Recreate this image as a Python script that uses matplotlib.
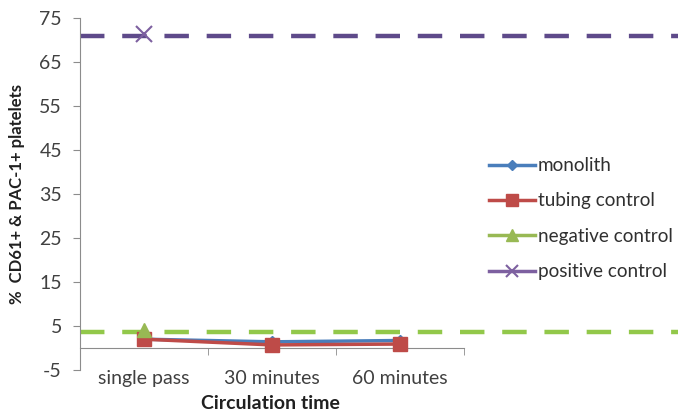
import matplotlib
matplotlib.use("Agg")
import matplotlib.pyplot as plt
import matplotlib.transforms as mtransforms
import numpy as np

plt.rcParams['font.family'] = ['Lato', 'DejaVu Sans']

categories = ["single pass", "30 minutes", "60 minutes"]
monolith = [2.0, 1.4, 1.7]
tubing = [2.0, 0.7, 0.9]
negative = [4.1, None, None]
positive = [71.3, None, None]
neg_level = 3.6
pos_level = 70.9
yticks = [-5, 5, 15, 25, 35, 45, 55, 65, 75]

FS = 14

fig = plt.figure(figsize=(6.78, 4.15), dpi=100)
ax = fig.add_axes([80/678, 1-370/415, 384/678, 352/415])

x = np.arange(len(categories))
def arr(v):
    return np.array([np.nan if a is None else a for a in v], dtype=float)

# extended dashed reference lines (span past the axes to the right edge)
tr = mtransforms.blended_transform_factory(ax.transAxes, ax.transData)
ax.plot([0, 598/384], [pos_level, pos_level], transform=tr, clip_on=False,
        color='#5E4A8A', lw=3.2, dashes=(5.5, 4), zorder=2)
ax.plot([0, 598/384], [neg_level, neg_level], transform=tr, clip_on=False,
        color='#92C84A', lw=3.2, dashes=(5.5, 4), zorder=2)

ax.plot(x, arr(monolith), color='#4A7EBB', lw=2.5, marker='D', ms=6, label='monolith', zorder=3)
ax.plot(x, arr(tubing), color='#BE4B48', lw=2.5, marker='s', ms=10, label='tubing control', zorder=4)
ax.plot(x, arr(negative), color='#98B954', lw=2.5, marker='^', ms=10, label='negative control', zorder=5)
ax.plot(x, arr(positive), color='#7D60A0', lw=2.5, marker='x', ms=11, mew=1.5, label='positive control', zorder=5)

ax.set_xlim(-0.5, 2.5)
ax.set_ylim(-5, 75)
ax.set_yticks(yticks)
ax.set_yticklabels([str(t) for t in yticks], fontsize=FS, color='#404040')

for s in ['top', 'right']:
    ax.spines[s].set_visible(False)
ax.spines['left'].set_color('#8C8C8C')
ax.spines['bottom'].set_color('#8C8C8C')
ax.spines['bottom'].set_position(('data', 0))
ax.tick_params(axis='y', direction='out', length=5, color='#8C8C8C', pad=8)

ax.set_xticks(x)
ax.set_xticklabels(categories, fontsize=FS, color='#404040')
ax.tick_params(axis='x', which='major', length=0, pad=16)
ax.set_xticks([-0.5, 0.5, 1.5, 2.5], minor=True)
ax.tick_params(axis='x', which='minor', direction='out', length=5, color='#8C8C8C')

ax.set_ylabel('%  CD61+ & PAC-1+ platelets', fontsize=12, fontweight='bold', color='#202020', labelpad=10)
fig.text(270/678, 1-403/415, 'Circulation time', fontsize=FS, fontweight='bold',
         color='#202020', ha='center', va='center')

leg = ax.legend(loc='center left', bbox_to_anchor=(1.022, 0.43), frameon=False,
                fontsize=13.6, handlelength=2.4, labelspacing=0.97, handletextpad=0.15,
                markerscale=0.8)
for t in leg.get_texts():
    t.set_color('#303030')

fig.savefig('out.png', dpi=100)
